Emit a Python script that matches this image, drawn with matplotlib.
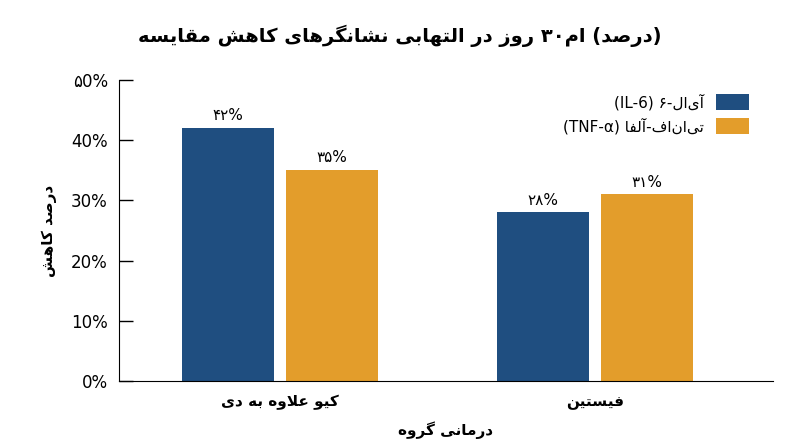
import matplotlib
matplotlib.use("Agg")
import matplotlib.pyplot as plt
import numpy as np

categories = ["دی به علاوه کیو", "فیستین"]
il6 = [42, 35 - 35 + 28]
il6 = [42, 28]
tnf = [35, 31]
il6_labels = ["۴۲%", "۲۸%"]
tnf_labels = ["۳۵%", "۳۱%"]
yticks = [0, 10, 20, 30, 40, 50]
ytick_labels = ["0%", "10%", "20%", "30%", "40%", "۵0%"]

# --- minimal Arabic/Persian shaper (presentation forms) ---
FORMS = {
    'ا': (0xFE8D, 0xFE8E, None, None), 'آ': (0xFE81, 0xFE82, None, None),
    'ب': (0xFE8F, 0xFE90, 0xFE91, 0xFE92), 'ت': (0xFE95, 0xFE96, 0xFE97, 0xFE98),
    'د': (0xFEA9, 0xFEAA, None, None), 'ر': (0xFEAD, 0xFEAE, None, None),
    'ز': (0xFEAF, 0xFEB0, None, None), 'س': (0xFEB1, 0xFEB2, 0xFEB3, 0xFEB4),
    'ش': (0xFEB5, 0xFEB6, 0xFEB7, 0xFEB8), 'ص': (0xFEB9, 0xFEBA, 0xFEBB, 0xFEBC),
    'ع': (0xFEC9, 0xFECA, 0xFECB, 0xFECC), 'ف': (0xFED1, 0xFED2, 0xFED3, 0xFED4),
    'ق': (0xFED5, 0xFED6, 0xFED7, 0xFED8), 'ل': (0xFEDD, 0xFEDE, 0xFEDF, 0xFEE0),
    'م': (0xFEE1, 0xFEE2, 0xFEE3, 0xFEE4), 'ن': (0xFEE5, 0xFEE6, 0xFEE7, 0xFEE8),
    'ه': (0xFEE9, 0xFEEA, 0xFEEB, 0xFEEC), 'و': (0xFEED, 0xFEEE, None, None),
    'ک': (0xFB8E, 0xFB8F, 0xFB90, 0xFB91), 'گ': (0xFB92, 0xFB93, 0xFB94, 0xFB95),
    'ی': (0xFBFC, 0xFBFD, 0xFBFE, 0xFBFF),
}

def shape(word):
    # ligature lam-alef
    chars = []
    i = 0
    while i < len(word):
        if word[i] == 'ل' and i + 1 < len(word) and word[i + 1] == 'ا':
            chars.append('LA'); i += 2
        else:
            chars.append(word[i]); i += 1
    def joins_next(c):
        return c in FORMS and FORMS[c][2] is not None
    def is_letter(c):
        return c in FORMS or c == 'LA'
    out = []
    for k, c in enumerate(chars):
        prev = chars[k - 1] if k > 0 else None
        nxt = chars[k + 1] if k + 1 < len(chars) else None
        jp = prev is not None and joins_next(prev)
        if c == 'LA':
            out.append(chr(0xFEFC if jp else 0xFEFB)); continue
        if c not in FORMS:
            if c != '\u200c':
                out.append(c)
            continue
        iso, fin, ini, med = FORMS[c]
        jn = ini is not None and nxt is not None and is_letter(nxt)
        if jp and jn: g = med
        elif jp: g = fin
        elif jn: g = ini
        else: g = iso
        out.append(chr(g))
    return ''.join(reversed(out))

def ltr_words(text):
    return ' '.join(shape(w) for w in text.split(' '))

def rtl_words(text):
    return ' '.join(shape(w) for w in reversed(text.split(' ')))

AR = ['DejaVu Sans']
plt.rcParams['font.family'] = ['DejaVu Sans']

blue = '#1f4e80'
orange = '#e39d2b'

fig = plt.figure(figsize=(8, 4.47), dpi=100)
ax = fig.add_axes([119/800, 66/447, (773-119)/800, (381-80)/447])
x = np.arange(len(categories))
w = 0.295
off = 0.165
b1 = ax.bar(x - off, il6, w, color=blue, label=shape('آی\u200cال-') [::1] if False else None)
b2 = ax.bar(x + off, tnf, w, color=orange)
for xi, v, l in zip(x - off, il6, il6_labels):
    ax.text(xi, v + 0.8, l, ha='center', va='bottom', fontsize=11, family=AR)
for xi, v, l in zip(x + off, tnf, tnf_labels):
    ax.text(xi, v + 0.8, l, ha='center', va='bottom', fontsize=11, family=AR)

ax.set_xlim(-(280-119)/315, (773-280)/315)
ax.set_ylim(0, 50)
ax.set_yticks(yticks)
ax.set_yticklabels(ytick_labels, fontsize=12, family=AR)
ax.tick_params(axis='y', direction='in', length=10, width=1, pad=8)
ax.set_xticks(x)
ax.set_xticklabels([ltr_words(c) for c in categories], fontsize=11, fontweight='bold', family=AR)
ax.tick_params(axis='x', length=0, pad=10)
for s in ['top', 'right']:
    ax.spines[s].set_visible(False)
ax.set_xlabel(ltr_words('گروه درمانی'), fontsize=11, fontweight='bold', family=AR, labelpad=8)
ax.set_ylabel(rtl_words('درصد کاهش'), fontsize=11, fontweight='bold', family=AR, labelpad=10)

leg1 = '(IL-6) ' + '۶-' + shape('آی\u200cال')
leg2 = '(TNF-α) ' + shape('آلفا') + '-' + shape('تی\u200cان\u200cاف')
ax.legend([b1, b2], [leg1, leg2], loc='upper right', bbox_to_anchor=(0.985, 1.0),
          markerfirst=False, frameon=False, fontsize=11, prop={'family': AR, 'size': 11},
          handlelength=2.2, handleheight=1.2, labelspacing=0.5)

title = ' '.join([shape('مقایسه'), shape('کاهش'), shape('نشانگرهای'), shape('التهابی'),
                  shape('در'), shape('روز'), '۳۰' + shape('ام'), '(' + shape('درصد') + ')'])
fig.text(0.5, 0.92, title, ha='center', va='center', fontsize=14, fontweight='bold', family=AR)

fig.savefig('out.png', dpi=100, facecolor='white')
